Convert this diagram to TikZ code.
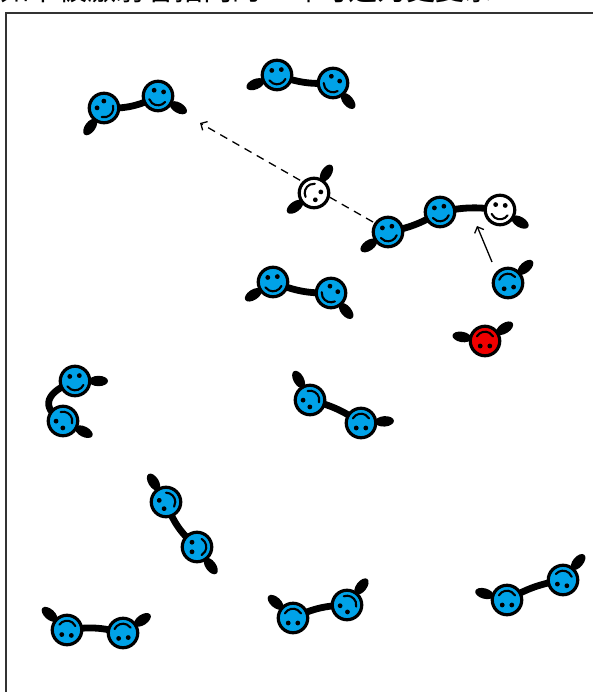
\documentclass[tikz,border=0pt]{standalone}
\usepackage{fontspec}
\newfontfamily\cjk{Noto Sans CJK SC}
\usetikzlibrary{calc,arrows.meta}
\pgfdeclarelayer{back}
\pgfsetlayers{back,main}
\definecolor{molblue}{RGB}{0,162,232}
\definecolor{molred}{RGB}{240,0,0}
\tikzset{
  face/.style={circle, draw=black, line width=3.2pt, minimum size=29.5pt, inner sep=0pt},
  featureline/.style={line width=2.1pt, line cap=round},
  chainline/.style={line width=6.8pt, line cap=round},
  arrowline/.style={line width=1.3pt, -{Straight Barb[length=5pt,width=10pt]}},
  frame/.style={draw=black!80, line width=1.8pt}
}
% a smiling head: name, position, clockwise turn, fill colour
\newcommand\molface[4]{%
  \node[face, fill=#4] (#1) at (#2) {};
  \begin{scope}[shift={(#2)}, rotate={-(#3)}]
    \fill (-4.8,-5.0) circle (2.4) (4.8,-5.0) circle (2.4);
    \draw[featureline] (30:9.3) arc[start angle=30, end angle=150, radius=9.3];
  \end{scope}}
% a free tail sticking out of a head in the given direction
\newcommand\moltail[2]{%
  \begin{scope}[shift={(#1)}, rotate={-(#2)}]
    \draw[line width=4.5pt] (0,0) -- (18,0);
    \fill (23.5,0) ellipse [x radius=9.5, y radius=5.2];
  \end{scope}}
% the link between two neighbouring heads
\newcommand\molchain[3]{%
  \draw[chainline] (#1.center) to[bend left=#3] (#2.center);}
\begin{document}
\begin{tikzpicture}[x=1pt, y=-1pt]
  \useasboundingbox (0,0) rectangle (593,692);
  \clip (0,0) rectangle (593,692);

  \node[anchor=base west, inner sep=0pt, font=\cjk\fontsize{29}{34}\selectfont] (title) at (0,0.5)
    {如下被激射者指向的一环可选为更复杂};
  \draw[frame] (6,13) rectangle (620,720);

  % heads
  \molface{A}{104,108}{-45}{molblue}
  \molface{B}{158,96}{10}{molblue}
  \molface{T1}{277,75}{-5}{molblue}
  \molface{T2}{333,83}{30}{molblue}
  \molface{W}{314,193}{125}{white}
  \molface{C}{388,232}{-10}{molblue}
  \molface{D}{440,212}{-10}{molblue}
  \molface{E}{500,210}{5}{white}
  \molface{Bs}{508,283}{170}{molblue}
  \molface{Rd}{485,341}{180}{molred}
  \molface{F}{273,282}{-5}{molblue}
  \molface{G}{331,293}{35}{molblue}
  \molface{H}{75,381}{-5}{molblue}
  \molface{I}{63,421}{-135}{molblue}
  \molface{J}{310,400}{-135}{molblue}
  \molface{K}{361,423}{180}{molblue}
  \molface{L}{166,502}{-120}{molblue}
  \molface{M}{197,547}{-90}{molblue}
  \molface{N}{67,630}{185}{molblue}
  \molface{O}{123,633}{175}{molblue}
  \molface{P}{293,618}{180}{molblue}
  \molface{Q}{347,605}{-140}{molblue}
  \molface{R}{507,600}{180}{molblue}
  \molface{S}{563,580}{190}{molblue}

  \coordinate (s1) at (492,262);
  \coordinate (t1) at (477,226);
  \coordinate (s2) at (373,222);
  \coordinate (t2) at (200,123);

  \begin{pgfonlayer}{back}
    % links
    \molchain{A}{B}{-15}
    \molchain{T1}{T2}{-12}
    \molchain{C}{D}{-10}
    \molchain{D}{E}{10}
    \molchain{F}{G}{-12}
    \draw[chainline] (H.center) .. controls ($(H)+(160:30)$) and ($(I)+(-150:28)$) .. (I.center);
    \molchain{J}{K}{10}
    \molchain{L}{M}{-15}
    \molchain{N}{O}{12}
    \molchain{P}{Q}{12}
    \molchain{R}{S}{10}
    % free tails
    \moltail{A}{126}
    \moltail{B}{30}
    \moltail{T1}{157}
    \moltail{T2}{50}
    \moltail{W}{-58}
    \moltail{W}{144}
    \moltail{C}{145}
    \moltail{E}{31}
    \moltail{Bs}{-42}
    \moltail{Rd}{190}
    \moltail{Rd}{-33}
    \moltail{F}{147}
    \moltail{G}{50}
    \moltail{H}{0}
    \moltail{I}{27}
    \moltail{J}{-119}
    \moltail{K}{-4}
    \moltail{L}{-122}
    \moltail{M}{54}
    \moltail{N}{-138}
    \moltail{O}{-34}
    \moltail{P}{-138}
    \moltail{Q}{-52}
    \moltail{R}{-164}
    \moltail{S}{-50}
    % moves
    \draw[arrowline] (s1) -- (t1);
    \draw[arrowline, dash pattern=on 8pt off 6pt] (s2) -- (t2);
  \end{pgfonlayer}
\end{tikzpicture}
\end{document}
